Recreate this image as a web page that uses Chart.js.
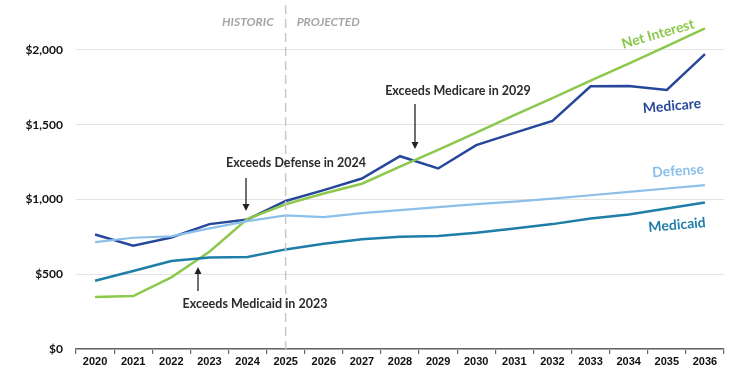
<!DOCTYPE html>
<html>
<head>
<meta charset="utf-8">
<script src="https://cdn.jsdelivr.net/npm/chart.js@4/dist/chart.umd.min.js"></script>
<style>
    html, body { margin: 0; padding: 0; background: #ffffff; }
    #wrap { width: 750px; height: 375px; }
</style>
</head>
<body>
<div id="wrap"><canvas id="spendingChart" width="750" height="375"></canvas></div>
<script>
// Years on the x axis
var years = ['2020', '2021', '2022', '2023', '2024', '2025', '2026', '2027', '2028',
    '2029', '2030', '2031', '2032', '2033', '2034', '2035', '2036'];

// Spending, billions of dollars
var netInterest = [347, 354, 479, 650, 870, 968, 1040, 1105, 1220, 1331, 1447, 1563, 1677, 1794, 1908, 2025, 2144];
var medicare = [766, 690, 746, 835, 866, 990, 1062, 1140, 1289, 1207, 1363, 1445, 1525, 1757, 1759, 1732, 1971];
var defense = [715, 744, 753, 806, 855, 893, 882, 908, 929, 948, 968, 986, 1006, 1028, 1051, 1073, 1096];
var medicaid = [456, 521, 588, 612, 615, 666, 704, 733, 750, 756, 777, 806, 835, 873, 900, 940, 980];

var yTicks = [0, 500, 1000, 1500, 2000];

var GREEN = '#8cc84b';
var DARK_BLUE = '#27489a';
var LIGHT_BLUE = '#8cc0ea';
var TEAL = '#1e7ea8';

function makeLine(label, data, color, width) {
    return {
        label: label,
        data: data,
        borderColor: color,
        backgroundColor: color,
        borderWidth: width,
        pointRadius: 0,
        tension: 0
    };
}

// Draw a small arrow with a filled head
function drawArrow(ctx, x, y1, y2) {
    var dir = y2 > y1 ? 1 : -1;
    ctx.save();
    ctx.strokeStyle = '#222';
    ctx.fillStyle = '#222';
    ctx.lineWidth = 1.3;
    ctx.beginPath();
    ctx.moveTo(x, y1);
    ctx.lineTo(x, y2 - dir * 5);
    ctx.stroke();
    ctx.beginPath();
    ctx.moveTo(x, y2);
    ctx.lineTo(x - 3.5, y2 - dir * 7);
    ctx.lineTo(x + 3.5, y2 - dir * 7);
    ctx.closePath();
    ctx.fill();
    ctx.restore();
}

function drawLabel(ctx, text, x, y, color, angle, font) {
    ctx.save();
    ctx.translate(x, y);
    ctx.rotate(angle * Math.PI / 180);
    ctx.fillStyle = color;
    ctx.font = font;
    ctx.textAlign = 'center';
    ctx.textBaseline = 'middle';
    ctx.fillText(text, 0, 0);
    ctx.restore();
}

// Divider, section titles, series names and notes
var annotations = {
    id: 'annotations',
    afterDatasetsDraw: function (chart) {
        var ctx = chart.ctx;
        var x = chart.scales.x;
        var area = chart.chartArea;
        var divX = x.getPixelForValue(5);

        ctx.save();
        ctx.strokeStyle = '#c8c8c8';
        ctx.lineWidth = 1.5;
        ctx.setLineDash([9, 5]);
        ctx.beginPath();
        ctx.moveTo(divX, area.top);
        ctx.lineTo(divX, area.bottom);
        ctx.stroke();
        ctx.restore();

        var headFont = 'italic bold 12px Lato, "Open Sans", sans-serif';
        ctx.save();
        ctx.fillStyle = '#a6a6a6';
        ctx.font = headFont;
        ctx.textBaseline = 'middle';
        ctx.textAlign = 'right';
        ctx.fillText('HISTORIC', divX - 12, 22);
        ctx.textAlign = 'left';
        ctx.fillText('PROJECTED', divX + 11, 22);
        ctx.restore();

        var nameFont = 'bold 14px Lato, "Open Sans", sans-serif';
        drawLabel(ctx, 'Net Interest', 658, 34, GREEN, -16, nameFont);
        drawLabel(ctx, 'Medicare', 672, 106, DARK_BLUE, -5, nameFont);
        drawLabel(ctx, 'Defense', 678, 171, LIGHT_BLUE, -4, nameFont);
        drawLabel(ctx, 'Medicaid', 677, 225, TEAL, -5, nameFont);

        var noteFont = 'bold 12.5px Lato, "Open Sans", sans-serif';
        ctx.save();
        ctx.fillStyle = '#2b2b2b';
        ctx.font = noteFont;
        ctx.textAlign = 'center';
        ctx.textBaseline = 'middle';
        ctx.fillText('Exceeds Medicare in 2029', 458, 91);
        ctx.fillText('Exceeds Defense in 2024', 296, 163);
        ctx.fillText('Exceeds Medicaid in 2023', 255, 304);
        ctx.restore();

        drawArrow(ctx, 415, 104, 149);
        drawArrow(ctx, 246, 178, 211);
        drawArrow(ctx, 198, 291, 267);
    }
};

var ctx = document.getElementById('spendingChart').getContext('2d');

new Chart(ctx, {
    type: 'line',
    data: {
        labels: years,
        datasets: [
            makeLine('Medicaid', medicaid, TEAL, 2.5),
            makeLine('Defense', defense, LIGHT_BLUE, 2.2),
            makeLine('Net Interest', netInterest, GREEN, 2.5),
            makeLine('Medicare', medicare, DARK_BLUE, 2.5)
        ]
    },
    options: {
        responsive: false,
        animation: false,
        layout: {
            padding: { left: 0, right: 26, top: 5, bottom: 0 }
        },
        plugins: {
            legend: { display: false },
            tooltip: { enabled: false }
        },
        scales: {
            x: {
                offset: true,
                afterFit: function (scale) {
                    scale.height = 26;
                    scale.paddingLeft = 0;
                    scale.paddingRight = 0;
                },
                grid: {
                    offset: true,
                    drawOnChartArea: false,
                    drawTicks: true,
                    tickLength: 5,
                    color: '#666',
                    lineWidth: 1.2
                },
                border: { display: true, color: '#666', width: 1.5 },
                ticks: {
                    color: '#111',
                    padding: 1,
                    maxRotation: 0,
                    autoSkip: false,
                    font: { family: '"Liberation Sans", Arial, sans-serif', size: 11, weight: 'bold' }
                }
            },
            y: {
                min: 0,
                max: 2300,
                afterFit: function (scale) {
                    scale.width = 76;
                    scale.paddingTop = 0;
                    scale.paddingBottom = 0;
                },
                afterBuildTicks: function (scale) {
                    scale.ticks = yTicks.map(function (v) { return { value: v }; });
                },
                grid: {
                    color: '#e4e4e4',
                    lineWidth: 1,
                    drawTicks: false
                },
                border: { display: false },
                ticks: {
                    color: '#111',
                    padding: 13,
                    font: { family: 'Lato, "Open Sans", sans-serif', size: 12, weight: 'bold' },
                    callback: function (value) {
                        return '$' + value.toLocaleString('en-US');
                    }
                }
            }
        }
    },
    plugins: [annotations]
});
</script>
</body>
</html>
